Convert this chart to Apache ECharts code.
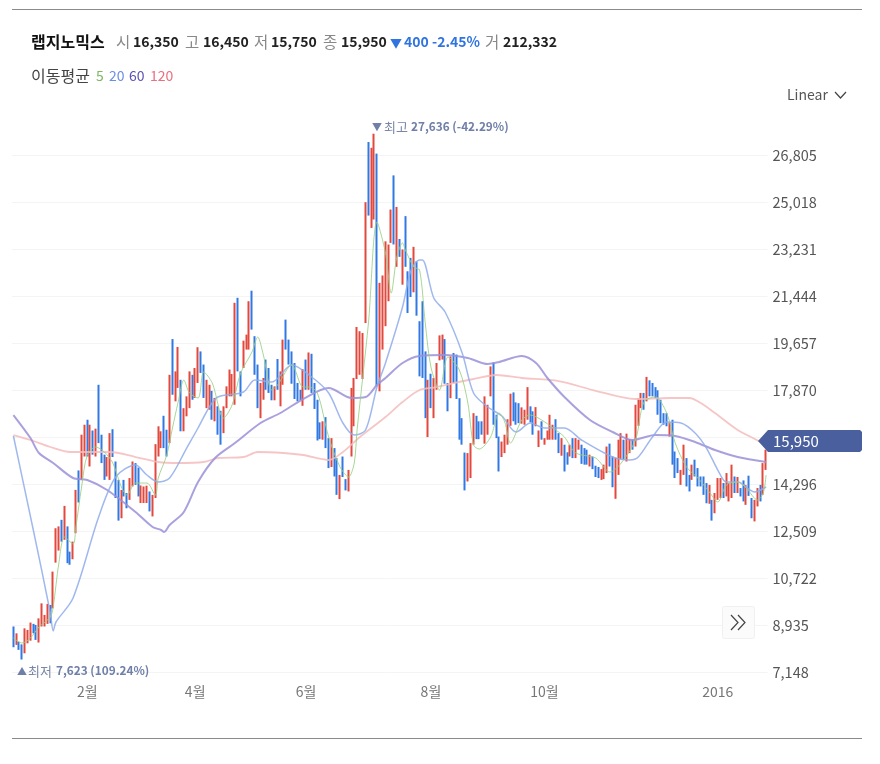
<!DOCTYPE html>
<html>
<head>
<meta charset="utf-8">
<title>랩지노믹스</title>
<style>
html, body { margin: 0; padding: 0; background: #fff; }
#main { width: 880px; height: 764px; }
</style>
<script src="https://cdn.jsdelivr.net/npm/echarts@6/dist/echarts.min.js"></script>
</head>
<body>
<div id="main"></div>
<script>
// bar tops from left to right
const barHighs = [
  8880,8620,8300,8200,8810,8750,9030,8980,8940,9190,9760,9320,9740,9700,10970,12620,12690,12940,13470,12690,11730,12110,14080,14820,16180,16560,16750,16560,16340,16410,18080,16180,15420,15330,16240,16390,15160,14460,14080,14460,13960,14530,15160,
  15100,14930,14250,14210,14240,14020,13890,15820,16500,16310,16900,16370,18460,19820,18590,19520,18270,17190,17640,18590,18460,18720,19510,19350,18850,18270,18080,17850,17580,17260,17090,17260,18020,18660,18490,21200,21390,18590,19760,19990,21260,21660,19930,18850,
  18150,18340,19040,18720,18080,18020,19060,18590,19800,20560,19800,19350,18910,18150,17890,18680,19040,19310,19260,18150,17510,16650,16690,16850,16050,16050,15670,15290,14650,15350,14490,14840,17960,18340,20280,20120,20050,25030,27320,27100,27636,26880,21960,22240,
  23540,23420,24750,26050,24850,23630,23230,24500,22400,22910,23330,22780,20500,21260,19350,18270,18500,18340,18910,19960,19990,19820,18150,19160,19290,19230,17570,16810,15500,15480,15860,17000,16900,16690,16690,17640,17320,18780,18930,16940,16110,15920,16180,
  16770,17740,17790,17410,17380,17220,17130,17990,17260,17070,17230,16340,16690,16050,16340,16940,16560,16770,16240,16050,15800,15510,15800,16050,16050,15990,15800,15670,15610,15420,15350,15000,14950,14870,15040,15730,15840,15350,15300,15990,16240,15990,16220,16010,15990,
  17320,17570,17770,17770,18380,18250,18150,17990,17870,17510,17000,17000,16650,16750,15540,15290,14840,15800,15290,14650,15040,15230,14910,14590,14590,14340,14270,13700,13960,14530,14530,14340,14720,14340,15040,14590,14570,14150,14440,14270,14620,13770,13700,14150,14270,15100,15610
]
// bar bottoms
const barLows = [
  8090,8180,7990,7623,7860,8240,8340,8620,8370,8270,8880,8880,8980,9000,9570,11310,11770,12110,12180,11290,11230,11440,12430,13600,14460,15350,15350,14970,15420,15350,15860,15100,14460,14590,14460,15330,13770,12910,13000,13830,13380,13700,14210,
  14270,13830,13580,13580,13580,13260,13070,13770,15350,15670,15670,15350,15860,17700,17450,17960,16310,16310,16880,17190,17510,17580,18150,18530,17580,17190,17130,16750,16690,16180,15800,16240,17190,17640,17640,17320,18590,17640,18720,19420,19420,20180,18460,17190,
  16810,17510,17890,17770,17490,17490,17890,17260,18080,19420,18850,18120,17540,17450,17490,17280,17890,17890,17770,17160,15960,16010,15990,15670,14910,14950,14590,13890,13730,14570,14060,14020,15350,16500,18300,18460,18300,20430,24520,24050,24370,18020,17830,19420,
  20310,21260,23480,23420,22570,22950,21890,22570,20810,21420,21600,20710,18400,18340,16810,16090,17190,16810,17890,19010,19040,18120,17070,17570,18150,17540,15990,15800,14060,14400,14530,15800,16010,16010,16180,15840,16180,17640,16560,16050,14780,15330,15480,
  15800,16520,16690,16560,16620,16600,16560,16750,16650,16180,16500,15710,15990,15800,15990,15990,15990,15990,15480,15380,14780,15040,15350,15290,15290,15610,15070,15040,15040,14970,14870,14570,14530,14460,14490,14720,14970,14180,13740,14650,15250,15230,15160,15480,15610,
  15730,16520,17190,17130,17450,17640,17640,17570,16940,16620,16560,16500,16110,15040,14530,14720,14270,14650,14210,14020,14460,14590,14210,14210,13890,13570,13550,12910,13190,13700,13770,13770,13830,13640,13770,13960,13960,13830,13640,13510,13850,13000,12880,13450,13640,13890,14840
]
// R = rising (red), B = falling (blue)
const barDirs = [
  'BRBBRRRBBRRRRBRRRBRBBRRBRRBRBRBBBRRBBBRBBRR',
  'BBRRRBRRRRBBRBRRBRRRBRRBBRRBRBBRRRRRBBRRRBBB',
  'RRBBBRBRRBBBBBBRBRBBBBRBBRBBRBBRRRRRRRBRRBRR',
  'RRRBRBRBBBRBBBBRBRRRRBBRBBBBBRRRBBBRRRBBBRR',
  'RRBBBRRRBBRRBRRRRBBRBBRBRRBBBRBBBRRRBBRRRBRRB',
  'RRRBRBBBBBBBRBBBRRBBRBBBBBRBRRRBRRRBRBBRBBRRBRR'
].join('').split('')

// moving averages, [bar number, price] read at the bends of each line
const ma5Points = [[0,8442],[3,8252],[6,8442],[9,8861],[13,9241],[14,9622],[16,11297],[18,12286],[21,12020],[22,12667],[24,14189],[26,15407],[29,15712],[32,15521],[35,15103],[38,14189],[40,13885],[43,14341],[47,14341],[50,13885],[51,14532],[54,15407],[56,16435],[58,17424],[60,18262],[62,17767],[65,17576],[67,18566],[70,18147],[74,16815],[77,17310],[80,18528],[84,19327],[86,19898],[88,19213],[91,17881],[93,18071],[98,18832],[102,17995],[104,17995],[107,17767],[111,16092],[115,14950],[118,14570],[120,15103],[121,16359],[125,20431],[128,24275],[131,23095],[133,21573],[135,22943],[137,23476],[138,23209],[141,22562],[143,22448],[145,20431],[147,18756],[150,17881],[153,19137],[157,18642],[160,17386],[162,15788],[164,15635],[168,16092],[171,17006],[173,16663],[175,15864],[179,16739],[182,16929],[186,16739],[190,16435],[194,16092],[198,15483],[205,15293],[210,14760],[214,15103],[219,15978],[222,17424],[226,17615],[230,17006],[233,15864],[237,14950],[241,14532],[245,13999],[248,13618],[251,14265],[255,14379],[258,14151],[262,13694],[264,13961],[265,14646]]
const ma20Points = [[0,16130],[7,12553],[13,9394],[14,8708],[15,9051],[21,9964],[30,13047],[36,14570],[43,15026],[47,14646],[51,14379],[55,14532],[61,15673],[65,16435],[69,17234],[72,17615],[81,17805],[85,18262],[91,18185],[98,18832],[105,18376],[111,17767],[116,16625],[120,16168],[124,16359],[128,17995],[131,18909],[137,21040],[140,22448],[143,22829],[144,22829],[148,21382],[152,20850],[158,19289],[162,17767],[167,17234],[172,16891],[177,16282],[182,16625],[187,16435],[194,16435],[200,15978],[211,15331],[217,15217],[220,15331],[225,16092],[230,16663],[235,16625],[240,16244],[244,15673],[248,14836],[251,14379],[255,14379],[261,13999],[265,14189]]
const ma60Points = [[0,16929],[6,16054],[9,15483],[14,15103],[21,14532],[26,14456],[33,14075],[43,13238],[49,12667],[52,12553],[53,12476],[55,12743],[60,13238],[65,14379],[71,15293],[78,15864],[87,16625],[94,17006],[102,17538],[111,17957],[119,17576],[124,17615],[128,18071],[131,18338],[137,18909],[143,19175],[152,19213],[160,19099],[167,18870],[171,18947],[179,19175],[184,18909],[188,18338],[194,17615],[203,16739],[211,16282],[218,15978],[226,16168],[233,16130],[240,15902],[247,15597],[255,15331],[265,15141]]
const ma120Points = [[0,16168],[6,15978],[13,15712],[20,15521],[34,15521],[43,15331],[51,15141],[58,15103],[67,15141],[72,15293],[81,15331],[86,15521],[95,15483],[102,15407],[111,15217],[116,15521],[122,16092],[131,16853],[137,17424],[143,17881],[149,17995],[155,18147],[162,18300],[170,18452],[179,18338],[192,18223],[204,17881],[219,17538],[231,17576],[238,17576],[242,17386],[247,17006],[255,16359],[263,15902],[265,15712]]

const yTickStep = 1787
const yMin = 7148
const yMax = 28592

const monthBars = [26, 64, 103, 147, 187, 248]
const monthLabels = ['2월', '4월', '6월', '8월', '10월', '2016']

const lastClose = 15950
const RED = '#e2483d'
const BLUE = '#3079e3'
const FONT = '"Noto Sans CJK KR", "Noto Sans", sans-serif'

const categories = barHighs.map((_, i) => String(i))
const candles = barHighs.map((h, i) => {
  const l = barLows[i]
  return barDirs[i] === 'R' ? [l, h, l, h] : [h, l, l, h]
})

function txt(x, y, text, size, color, weight) {
  return {
    type: 'text', x: x, y: y, silent: true, z: 20,
    style: { text: text, fontSize: size, fill: color, fontWeight: weight || 'normal', fontFamily: FONT, verticalAlign: 'middle' }
  }
}
function rule(y) {
  return { type: 'line', silent: true, shape: { x1: 12, y1: y, x2: 862, y2: y }, style: { stroke: '#8a8a8a', lineWidth: 1 } }
}
function chevron(points, color) {
  return { type: 'polyline', silent: true, z: 21, shape: { points: points }, style: { stroke: color, lineWidth: 1.2, fill: null } }
}

const graphics = [
  rule(9.5), rule(738.5),
  // header row
  txt(31, 42, '랩지노믹스', 16, '#111', 'bold'),
  txt(116, 42, '시', 15.5, '#888'), txt(133, 42, '16,350', 14, '#222', 'bold'),
  txt(185, 42, '고', 15.5, '#888'), txt(203, 42, '16,450', 14, '#222', 'bold'),
  txt(254, 42, '저', 15.5, '#888'), txt(271, 42, '15,750', 14, '#222', 'bold'),
  txt(323, 42, '종', 15.5, '#888'), txt(341, 42, '15,950', 14, '#222', 'bold'),
  txt(390, 43, '▼', 12, '#2f74e0'), txt(404, 42, '400', 14, '#2f74e0', 'bold'),
  txt(432, 42, '-2.45%', 14, '#2f74e0', 'bold'),
  txt(485, 42, '거', 15.5, '#888'), txt(503, 42, '212,332', 14, '#222', 'bold'),
  // moving average legend
  txt(31, 76, '이동평균', 16, '#444'),
  txt(96, 76, '5', 14, '#7cb862'), txt(109, 76, '20', 14, '#6d8fe3'),
  txt(129, 76, '60', 14, '#5b54b3'), txt(150, 76, '120', 14, '#e9707f'),
  // scale switch
  txt(787, 95, 'Linear', 14, '#555'),
  chevron([[835, 92], [840.5, 98], [846, 92]], '#444'),
  // high and low notes
  txt(372, 127, '▼', 10, '#6f7fa8'), txt(384, 127, '최고', 13, '#7a86a8'),
  txt(411, 127, '27,636 (-42.29%)', 11.8, '#6f7fa8', 'bold'),
  txt(17, 671, '▲', 10, '#6f7fa8'), txt(28, 671, '최저', 13, '#7a86a8'),
  txt(56, 671, '7,623 (109.24%)', 11.8, '#6f7fa8', 'bold'),
  // scroll button
  { type: 'rect', silent: true, z: 20, shape: { x: 722.5, y: 606.5, width: 32, height: 32, r: 2 }, style: { fill: '#fbfbfb', stroke: '#f0f0f0' } },
  chevron([[731, 615], [738, 622.5], [731, 630]], '#444'),
  chevron([[738, 615], [745, 622.5], [738, 630]], '#444'),
  // last price flag
  { type: 'polygon', silent: true, z: 20, shape: { points: [[758, 441], [768, 430], [860, 430], [862, 432], [862, 450], [860, 452], [768, 452]] }, style: { fill: '#4a5f9e' } },
  txt(773, 441, lastClose.toLocaleString('en-US'), 15, '#fff')
]

function maSeries(name, points, color, width) {
  return {
    name: name, type: 'line', data: points, smooth: 0.3, showSymbol: false, silent: true, z: 5,
    lineStyle: { color: color, width: width, opacity: 0.85 }
  }
}

const chart = echarts.init(document.getElementById('main'))
chart.setOption({
  animation: false,
  textStyle: { fontFamily: FONT },
  grid: { left: 12, right: 112.5, top: 108.6, height: 563.4 },
  xAxis: {
    type: 'category', data: categories,
    axisLine: { show: false }, axisTick: { show: false }, splitLine: { show: false },
    axisLabel: {
      margin: 13, fontSize: 14, color: '#777',
      interval: i => monthBars.includes(i),
      formatter: (v, i) => monthLabels[monthBars.indexOf(i)] || ''
    }
  },
  yAxis: {
    type: 'value', position: 'right', min: yMin, max: yMax, interval: yTickStep, scale: true,
    axisLine: { show: false }, axisTick: { show: false },
    axisLabel: {
      margin: 5, fontSize: 14.5, color: '#555', showMaxLabel: false,
      formatter: v => v.toLocaleString('en-US')
    },
    splitLine: { showMaxLine: false, lineStyle: { color: '#f4f4f4' } }
  },
  series: [
    {
      name: '랩지노믹스', type: 'candlestick', data: candles, barWidth: 1, silent: true, z: 3,
      itemStyle: { color: RED, color0: BLUE, borderColor: RED, borderColor0: BLUE, borderWidth: 2 }
    },
    maSeries('120', ma120Points, '#f5bcbc', 1.8),
    maSeries('60', ma60Points, '#9a90d8', 2),
    maSeries('20', ma20Points, '#8fabea', 1.5),
    maSeries('5', ma5Points, '#98cf82', 1)
  ],
  graphic: graphics
})
</script>
</body>
</html>
